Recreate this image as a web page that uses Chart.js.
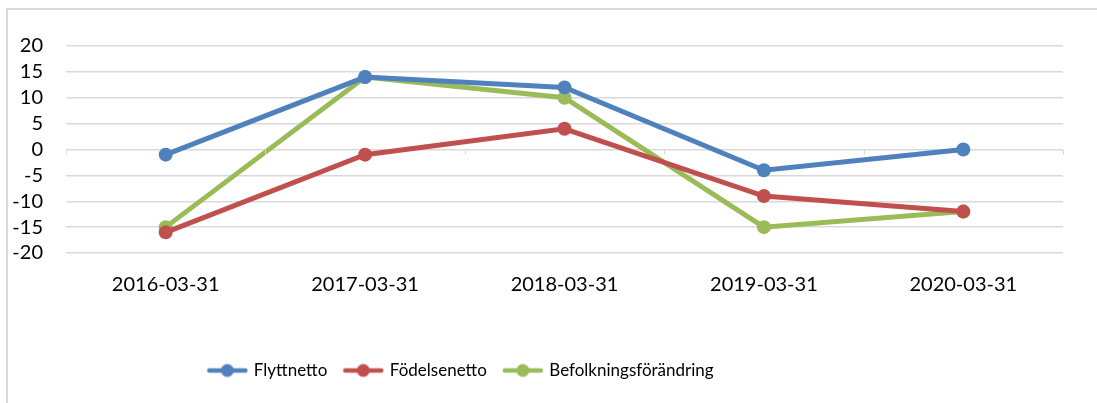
<!DOCTYPE html>
<html>
<head>
<meta charset="utf-8">
<script src="https://cdn.jsdelivr.net/npm/chart.js@4/dist/chart.umd.min.js"></script>
<style>
  body { margin: 0; background: #fff; }
  #wrap { position: relative; width: 1097px; height: 403px; overflow: hidden; }
  #frame { position: absolute; left: 6px; top: 8px; width: 1200px; height: 500px; border-left: 2px solid #d9d9d9; border-top: 2px solid #d9d9d9; }
  canvas { position: absolute; left: 0; top: 0; }
</style>
</head>
<body>
<div id="wrap">
  <div id="frame"></div>
  <canvas id="chart" width="1097" height="403"></canvas>
</div>
<script>
const labels = ['2016-03-31', '2017-03-31', '2018-03-31', '2019-03-31', '2020-03-31'];
const flyttnetto = [-1, 14, 12, -4, 0];
const fodelsenetto = [-16, -1, 4, -9, -12];
const befolkning = [-15, 14, 10, -15, -12];
const colors = ['#4f81bd', '#c0504d', '#9bbb59'];
const fontFamily = 'Lato, "Open Sans", sans-serif';

// legend icon: short line with a dot in the middle
function legendIcon(color) {
  const c = document.createElement('canvas');
  c.width = 42; c.height = 16;
  const g = c.getContext('2d');
  g.strokeStyle = color;
  g.lineWidth = 4.5;
  g.lineCap = 'round';
  g.beginPath(); g.moveTo(3, 8); g.lineTo(39, 8); g.stroke();
  g.fillStyle = color;
  g.beginPath(); g.arc(21, 8, 6.5, 0, Math.PI * 2); g.fill();
  return c;
}

// small tick marks under the zero line, between categories
const zeroTicks = {
  id: 'zeroTicks',
  afterDatasetsDraw(chart) {
    const x = chart.scales.x, y = chart.scales.y;
    const y0 = y.getPixelForValue(0);
    const ctx = chart.ctx;
    ctx.save();
    ctx.strokeStyle = '#d9d9d9';
    ctx.lineWidth = 1;
    for (let i = 0; i <= labels.length; i++) {
      const px = Math.round(x.getPixelForValue(i - 0.5)) + 0.5;
      ctx.beginPath(); ctx.moveTo(px, y0); ctx.lineTo(px, y0 + 5); ctx.stroke();
    }
    ctx.restore();
  }
};

// the legend sits left of centre in the original
const legendShift = {
  id: 'legendShift',
  afterLayout(chart) {
    chart.legend.left -= 74;
    chart.legend.right -= 74;
  }
};

function ds(label, data, color) {
  return {
    label: label,
    data: data,
    borderColor: color,
    backgroundColor: color,
    borderWidth: 5,
    pointRadius: 7,
    pointHoverRadius: 7,
    pointBorderWidth: 0,
    tension: 0
  };
}

new Chart(document.getElementById('chart'), {
  type: 'line',
  data: {
    labels: labels,
    datasets: [
      ds('Flyttnetto', flyttnetto, colors[0]),
      ds('Födelsenetto', fodelsenetto, colors[1]),
      ds('Befolkningsförändring', befolkning, colors[2])
    ]
  },
  options: {
    responsive: false,
    animation: false,
    layout: { padding: { left: 8, right: 34, top: 46, bottom: 14 } },
    scales: {
      x: {
        offset: true,
        grid: { display: false, drawTicks: false },
        border: { display: false },
        ticks: { color: '#000', padding: 20, autoSkip: false, maxRotation: 0, font: { family: fontFamily, size: 20 } },
        afterFit(scale) { scale.height = 91; }
      },
      y: {
        min: -20,
        max: 20,
        ticks: { stepSize: 5, autoSkip: false, color: '#000', padding: 23, font: { family: fontFamily, size: 20 } },
        grid: { color: '#d9d9d9', lineWidth: 1.5, drawTicks: false },
        border: { display: false },
        afterFit(scale) { scale.width = 58; }
      }
    },
    plugins: {
      tooltip: { enabled: false },
      legend: {
        position: 'bottom',
        labels: {
          color: '#000',
          font: { family: fontFamily, size: 17 },
          usePointStyle: true,
          pointStyleWidth: 36,
          boxHeight: 16,
          padding: 18,
          generateLabels(chart) {
            const items = Chart.defaults.plugins.legend.labels.generateLabels(chart);
            items.forEach((it, i) => { it.pointStyle = legendIcon(colors[i]); });
            return items;
          }
        }
      }
    }
  },
  plugins: [zeroTicks, legendShift]
});
</script>
</body>
</html>
